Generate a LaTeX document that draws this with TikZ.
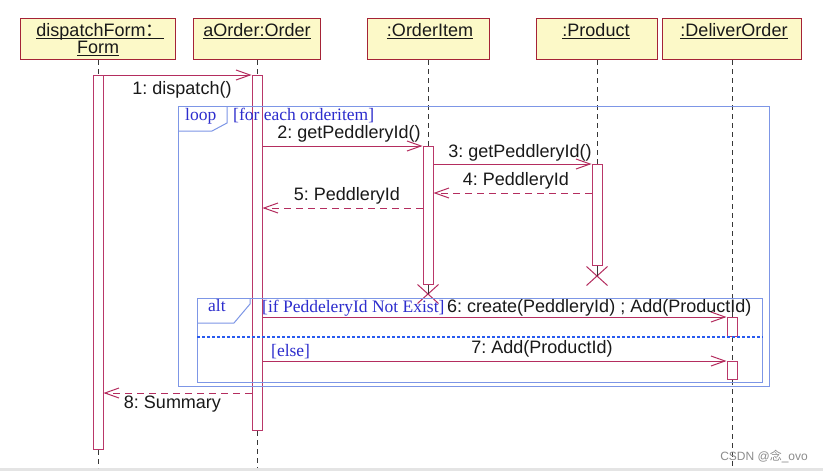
\documentclass[tikz,border=0pt]{standalone}
\usepackage{fontspec}
\setmainfont{Liberation Sans}
\newfontfamily\serifg{Liberation Serif}
\newfontfamily\cjk{Noto Sans CJK SC}
\usetikzlibrary{arrows.meta,shapes.misc}
\definecolor{hdrfill}{RGB}{252,249,200}
\definecolor{hdrdraw}{RGB}{165,35,55}
\definecolor{msgc}{RGB}{180,45,95}
\definecolor{actc}{RGB}{185,55,105}
\definecolor{framec}{RGB}{125,150,230}
\definecolor{guardc}{RGB}{45,45,205}
\definecolor{sepc}{RGB}{40,90,240}
\definecolor{lifec}{RGB}{55,55,55}
\definecolor{txtc}{RGB}{25,25,25}
\definecolor{bandc}{RGB}{228,228,228}
\definecolor{wmc}{RGB}{140,140,140}
\newcommand\ulx[1]{\setbox0\hbox{#1}\rlap{\rule[-3pt]{\wd0}{0.9pt}}\box0}
\frenchspacing
\begin{document}
\begin{tikzpicture}[x=1pt,y=-1pt,
  hdr/.style={draw=hdrdraw, fill=hdrfill, line width=1pt, minimum height=41pt, inner sep=0pt, anchor=north},
  hdrtxt/.style={font=\fontsize{18}{18}\selectfont, text=txtc, anchor=base, inner sep=0pt},
  life/.style={draw=lifec, line width=0.9pt, dash pattern=on 5pt off 4pt},
  act/.style={draw=actc, fill=white, line width=1pt, minimum width=10pt, inner sep=0pt, anchor=north},
  call/.style={draw=msgc, line width=1pt, -{Straight Barb[length=14pt,width=10pt]}},
  ret/.style={call, dash pattern=on 7pt off 5pt},
  lbl/.style={font=\fontsize{18}{18}\selectfont, text=txtc, anchor=base, inner sep=0pt},
  grd/.style={font=\serifg\fontsize{17.5}{17.5}\selectfont, text=guardc, anchor=base west, inner sep=0pt},
  frm/.style={draw=framec, line width=1pt},
  kill/.style={cross out, draw=msgc, line width=1pt, minimum width=20pt, minimum height=18pt, inner sep=0pt}
]
\useasboundingbox (0,0) rectangle (823,471);
\fill[white] (0,0) rectangle (823,471);
\fill[bandc] (0,468) rectangle (823,471);

% headers
\node[hdr, minimum width=155pt] (hD) at (98,18) {};
\node[hdr, minimum width=127pt] (hA) at (257,18) {};
\node[hdr, minimum width=122pt] (hI) at (428,18) {};
\node[hdr, minimum width=121pt] (hP) at (597,18) {};
\node[hdr, minimum width=139pt] (hV) at (732,18) {};
\node[hdrtxt] (tD1) at (100,36) {\ulx{dispatchForm{\cjk ：}}};
\node[hdrtxt] (tD2) at (98,53) {\ulx{Form}};
\node[hdrtxt] (tA) at (257,36) {\ulx{aOrder:Order}};
\node[hdrtxt] (tI) at (430,36) {\ulx{:OrderItem}};
\node[hdrtxt] (tP) at (596,36) {\ulx{:Product}};
\node[hdrtxt] (tV) at (734,36) {\ulx{:DeliverOrder}};

% lifeline ends
\coordinate (eD) at (98,468);
\coordinate (eA) at (257,468);
\coordinate (eV) at (732,468);

% activations and destruction marks
\node[act, minimum height=374pt] (aD) at (98,75) {};
\node[act, minimum height=355pt] (aA) at (257,75) {};
\node[act, minimum height=138pt] (aI) at (428,146) {};
\node[act, minimum height=101pt] (aP) at (597,164) {};
\node[act, minimum height=19pt] (aV1) at (732,317) {};
\node[act, minimum height=18pt] (aV2) at (732,361) {};
\node[kill] (xI) at (428,294) {};
\node[kill] (xP) at (597,276) {};

% lifelines
\draw[life] (hD.south) -- (aD.north);
\draw[life] (aD.south) -- (eD);
\draw[life] (hA.south) -- (aA.north);
\draw[life] (aA.south) -- (eA);
\draw[life] (hI.south) -- (aI.north);
\draw[lifec, line width=0.9pt] (aI.south) -- (xI.center);
\draw[life] (hP.south) -- (aP.north);
\draw[lifec, line width=0.9pt] (aP.south) -- (xP.center);
\draw[life] (hV.south) -- (aV1.north);
\draw[life] (aV1.south) -- (aV2.north);
\draw[life] (aV2.south) -- (eV);

% frames
\node[frm, minimum width=591pt, minimum height=280pt, anchor=north west, inner sep=0pt] (loopF) at (178,106) {};
\draw[frm] (loopF.north west) ++(49,0) -- ++(0,17) -- ++(-15,8) -- ++(-34,0);
\node[frm, minimum width=565pt, minimum height=84pt, anchor=north west, inner sep=0pt] (altF) at (197,298) {};
\draw[frm] (altF.north west) ++(53,0) -- ++(0,6) -- ++(-16,19) -- ++(-37,0);
\coordinate (sepy) at (0,337);
\draw[sepc, line width=1.1pt, dash pattern=on 3pt off 2pt] (altF.west |- sepy) -- (altF.east |- sepy);

% message y levels
\coordinate (m4) at (0,193);
\coordinate (m5) at (0,208);
\coordinate (m8) at (0,393);

% messages
\draw[call] (aD.north east) -- (aA.north west);
\draw[call] (aA.east |- aI.north) -- (aI.north west);
\draw[call] (aI.east |- aP.north) -- (aP.north west);
\draw[ret] (aP.west |- m4) -- (aI.east |- m4);
\draw[ret] (aI.west |- m5) -- (aA.east |- m5);
\draw[call] (aA.east |- aV1.north) -- (aV1.north west);
\draw[call] (aA.east |- aV2.north) -- (aV2.north west);
\draw[ret] (aA.west |- m8) -- (aD.east |- m8);

% message labels
\node[lbl] (l1) at (182,94) {1: dispatch()};
\node[lbl] (l2) at (349,138) {2: getPeddleryId()};
\node[lbl] (l3) at (520,157) {3: getPeddleryId()};
\node[lbl] (l4) at (516,185) {4: PeddleryId};
\node[lbl] (l5) at (347,200.5) {5: PeddleryId};
\node[lbl, anchor=base west] (l6) at (447,312) {6: create(PeddleryId) ; Add(ProductId)};
\node[lbl] (l7) at (542,353) {7: Add(ProductId)};
\node[lbl] (l8) at (172.5,408) {8: Summary};

% guards and frame names
\node[grd] (gLoop) at (185,120) {loop};
\node[grd] (gFor) at (233,120) {[for each orderitem]};
\node[grd] (gAlt) at (208,311) {alt};
\node[grd] (gIf) at (262,312) {[if PeddeleryId Not Exist]};
\node[grd] (gElse) at (271,356) {[else]};

% watermark
\node[font=\fontsize{12}{12}\selectfont, text=wmc, anchor=base east, inner sep=0pt] (wm) at (808,460) {CSDN @{\cjk 念}\_ovo};
\end{tikzpicture}
\end{document}
